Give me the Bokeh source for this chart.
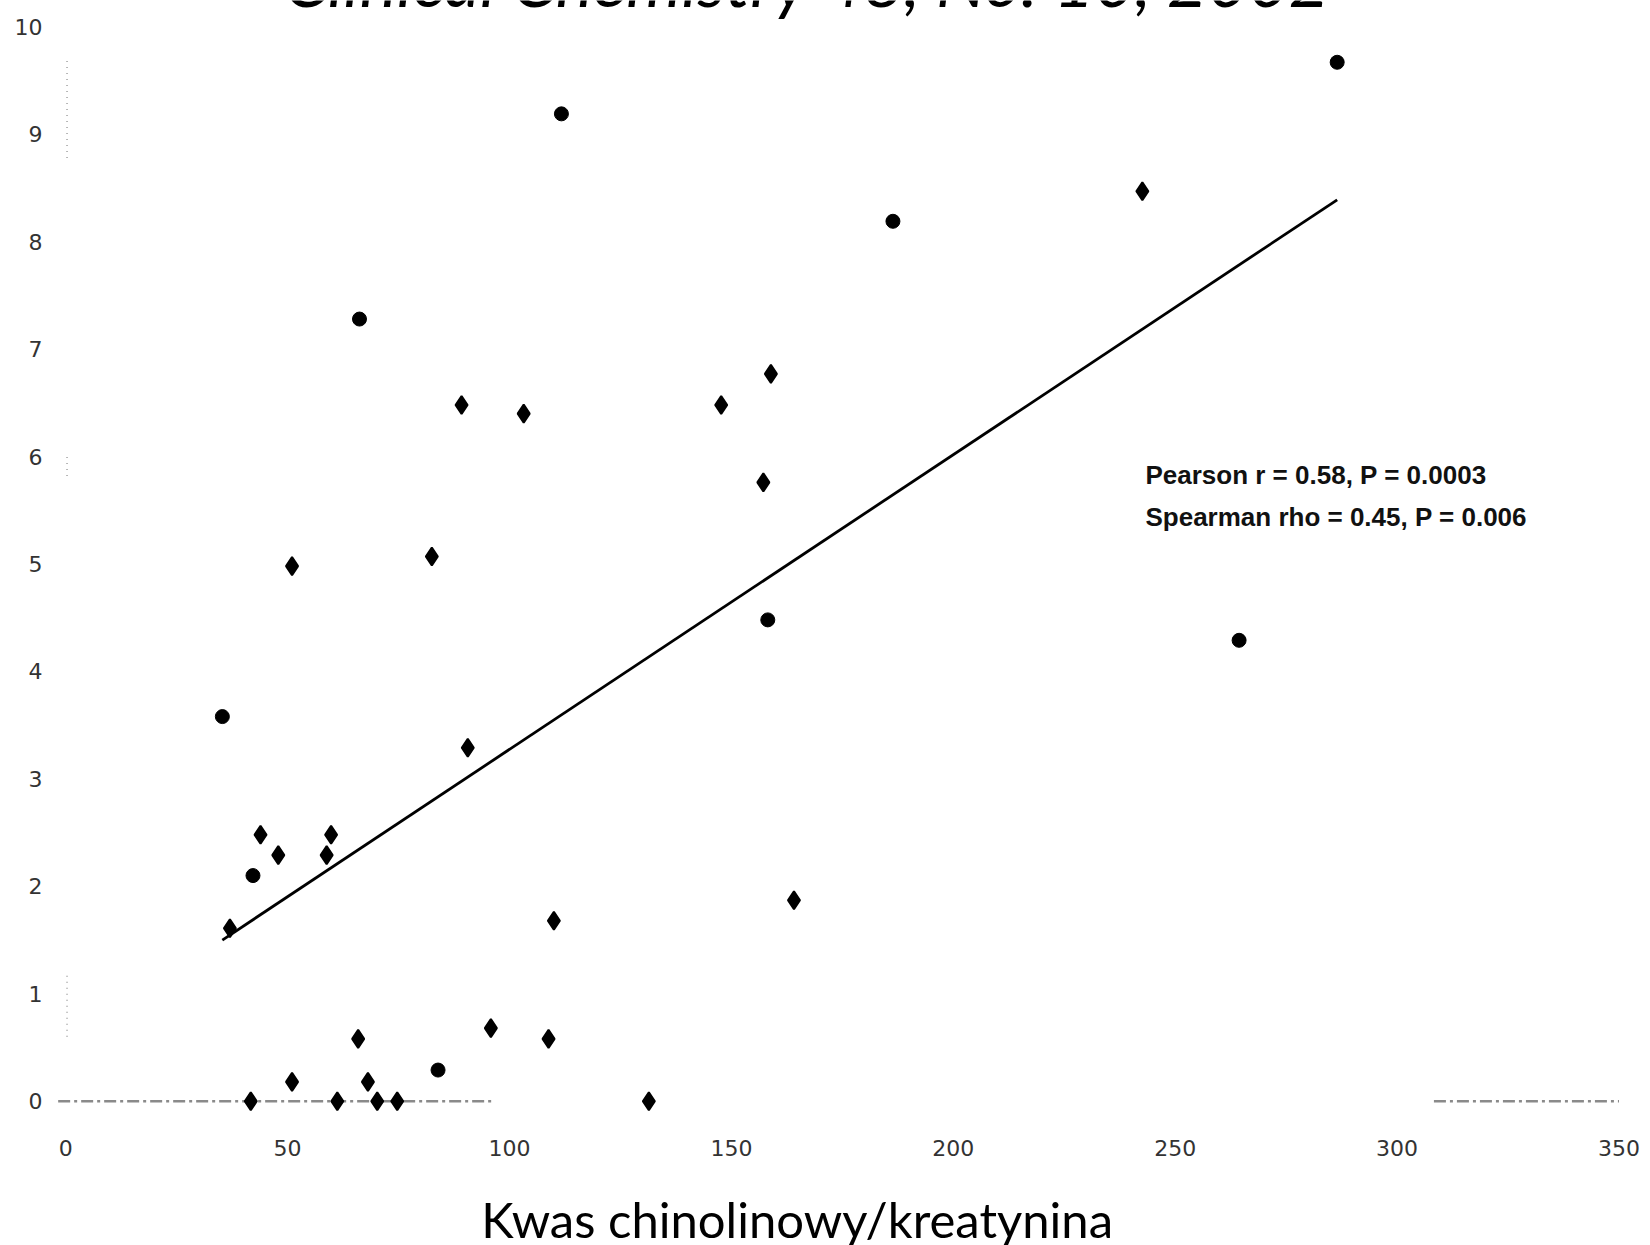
from bokeh.plotting import figure
from bokeh.models import Range1d, FixedTicker, Label
from bokeh.core.properties import value
from bokeh.embed import file_html
from bokeh.resources import INLINE

# ---- data ----
# points drawn as diamonds
dia_x = [242.6, 158.9, 89.2, 147.7, 103.2, 157.2, 82.5, 51.0, 90.6, 43.9, 59.8, 47.9, 58.8,
         164.1, 110.0, 37.0, 95.8, 65.9, 108.8, 51.0, 68.1, 41.7, 61.2, 70.2, 74.7, 131.4]
dia_y = [8.47, 6.77, 6.48, 6.48, 6.40, 5.76, 5.07, 4.98, 3.29, 2.48, 2.48, 2.29, 2.29,
         1.87, 1.68, 1.61, 0.68, 0.58, 0.58, 0.18, 0.18, 0.0, 0.0, 0.0, 0.0, 0.0]
# points that appear round in the scan
rnd_x = [286.5, 111.7, 186.4, 66.2, 158.2, 264.4, 35.3, 42.2, 83.9]
rnd_y = [9.67, 9.19, 8.19, 7.28, 4.48, 4.29, 3.58, 2.10, 0.29]
# regression line end points
fit_x = [35.3, 286.5]
fit_y = [1.50, 8.39]
x_ticks = [0, 50, 100, 150, 200, 250, 300, 350]
x_tick_labels = ["0", "50", "100", "150", "200", "250", "300", "350"]
y_ticks = [0, 1, 2, 3, 4, 5, 6, 7, 8, 9, 10]
title_text = "Clinical Chemistry 48, No. 10, 2002"
x_label = "Kwas chinolinowy/kreatynina"
stats_lines = ["Pearson r = 0.58, P = 0.0003", "Spearman rho = 0.45, P = 0.006"]
# scan fragments of the zero line and of the y axis
zero_seg_x = [[-1.7, 96.0], [308.3, 350.0]]
zero_seg_y = [[0.0, 0.0], [0.0, 0.0]]
yax_seg_x = [[0.3, 0.3], [0.3, 0.3], [0.3, 0.3]]
yax_seg_y = [[8.78, 9.71], [5.82, 6.01], [0.60, 1.19]]

W, H = 1650, 1245
p = figure(width=W, height=H, output_backend="svg", toolbar_location=None,
           x_axis_location=None,
           x_range=Range1d(-3.876, 356.2), y_range=Range1d(-1.343, 10.245),
           min_border_left=48, min_border_right=4, min_border_top=0, min_border_bottom=0)
p.outline_line_color = None
p.background_fill_color = "white"
p.border_fill_color = "white"
p.xgrid.visible = False
p.ygrid.visible = False

yax = p.yaxis[0]
yax.axis_line_color = None
yax.major_tick_line_color = None
yax.minor_tick_line_color = None
yax.major_tick_out = 0
yax.major_tick_in = 0
yax.major_label_text_font = "DejaVu Sans"
yax.major_label_text_font_size = "22px"
yax.major_label_text_color = "#333333"
yax.ticker = FixedTicker(ticks=y_ticks)
yax.major_label_standoff = 6

# x tick labels (the scan shows no x axis line)
p.text(x=x_ticks, y=[-0.431] * len(x_ticks), text=x_tick_labels,
       text_font=value("DejaVu Sans"), text_font_size="22px", text_color="#333333",
       text_align="center", text_baseline="middle")

# scan fragments
p.multi_line(zero_seg_x, zero_seg_y, line_color="#8a8a8a", line_width=2.5, line_dash="12 4 3 4")
p.multi_line(yax_seg_x, yax_seg_y, line_color="#a0a0a0", line_width=1.5, line_dash="1 5")

# regression line
p.line(fit_x, fit_y, line_color="black", line_width=2.8)

# points
p.scatter(dia_x, dia_y, marker="diamond", size=18, fill_color="black", line_color="black", line_width=2)
p.scatter(rnd_x, rnd_y, marker="circle", size=14, fill_color="black", line_color="black")

# stats text
for i, t in enumerate(stats_lines):
    p.add_layout(Label(x=243.3, y=5.829 - 0.391 * i, text=t, text_font="Liberation Sans",
                       text_font_style="bold", text_font_size="26px", text_color="#111111",
                       text_align="left", text_baseline="alphabetic"))

# title, clipped at the top edge as in the scan
p.add_layout(Label(x=167.15, y=10.432, text=title_text, text_font="Lato", text_font_style="italic",
                   text_font_size="70px", text_color="black", text_align="center",
                   text_baseline="alphabetic"))

# x axis title near the bottom edge
p.add_layout(Label(x=164.8, y=-1.101, text=x_label, text_font="Lato", text_font_style="normal",
                   text_font_size="49px", text_color="black", text_align="center",
                   text_baseline="middle"))

open("out.html", "w").write(file_html(p, INLINE))
